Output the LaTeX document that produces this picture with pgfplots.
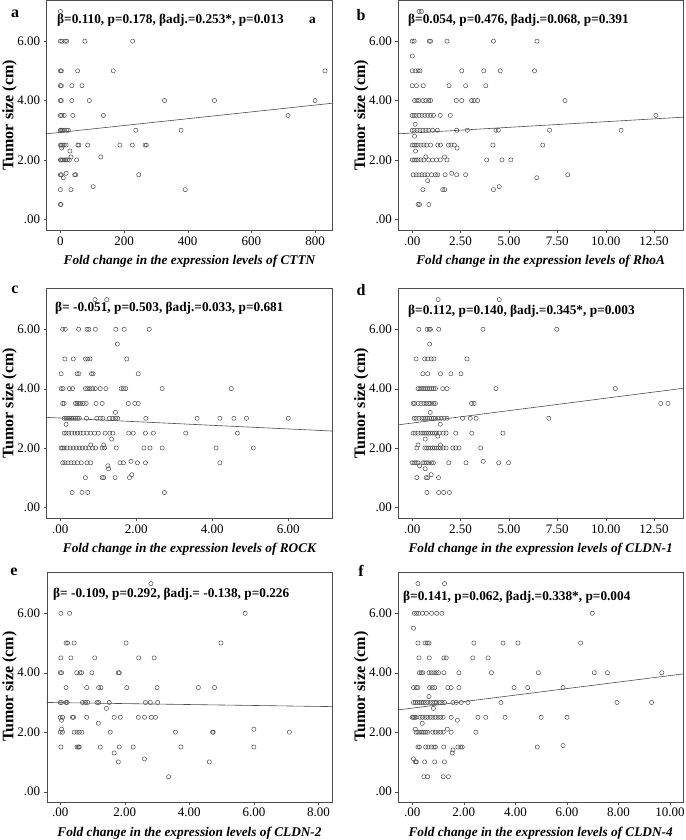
\documentclass[border=0pt]{standalone}
\usepackage{fontspec}
\setmainfont{Liberation Serif}
\usepackage{pgfplots}
\pgfplotsset{compat=1.18}

\pgfplotsset{
  panel/.style={scale only axis, width=285pt, height=230pt,
    axis line style={gray!60!black}, tick align=outside,
    xtick pos=left, ytick pos=left, major tick length=3pt,
    tick style={gray!60!black},
    ytick={0,2,4,6}, yticklabels={.00,2.00,4.00,6.00},
    tick label style={font=\fontsize{13}{14}\selectfont},
    ylabel={Tumor size (cm)},
    ylabel style={font=\fontsize{16}{18}\selectfont\bfseries,
      at={(axis description cs:-0.13,0.5)}, anchor=center},
    xlabel style={font=\fontsize{13.3}{15}\selectfont\bfseries\itshape, yshift=-3pt},
    anchor=north west},
  pts/.style={only marks, mark=o, mark size=2.1pt,
    mark options={draw=black!70, line width=0.5pt}},
  fit/.style={no marks, gray!60!black, line width=0.6pt}
}
\tikzset{note/.style={anchor=west, font=\fontsize{13.3}{15}\selectfont\bfseries, inner sep=0pt},
  plab/.style={font=\fontsize{16}{18}\selectfont\bfseries, inner sep=0pt}}

\begin{document}
\begin{tikzpicture}
\useasboundingbox (0,0) rectangle (685pt,-840pt);

% a: CTTN
\begin{axis}[panel, at={(46.7pt,-0.5pt)}, width=285.6pt, height=229.5pt,
  xmin=-43, xmax=854, ymin=-0.36, ymax=7.37,
  xtick={0,200,400,600,800}, xticklabels={0,200,400,600,800},
  xlabel={Fold change in the expression levels of CTTN}]
\addplot[pts] coordinates {
(0,7)
(0,6)(5,6)(15,6)(20,6)(77,6)(227,6)
(0,5)(3,5)(54,5)(166,5)(831,5)
(0,4.5)(3,4.5)(36,4.5)(68,4.5)
(0,4)(3,4)(36,4)(91,4)(327,4)(484,4)(800,4)
(0,3.5)(4,3.5)(12,3.5)(39,3.5)(135,3.5)(715,3.5)
(0,3)(2,3)(5,3)(8,3)(12,3)(20,3)(25,3)(237,3)(379,3)
(0,2.5)(3,2.5)(8,2.5)(12,2.5)(18,2.5)(55,2.5)(58,2.5)(86,2.5)(187,2.5)(226,2.5)(266,2.5)(270,2.5)
(4,2.4)(30,2.3)(33,2.1)(127,2.1)
(0,2)(3,2)(7,2)(12,2)(17,2)(22,2)(28,2)(51,2)
(0,1.5)(3,1.5)(18,1.55)(45,1.5)(48,1.5)(246,1.5)(9,1.4)
(0,1)(33,1)(103,1.1)(392,1)
(0,0.5)(2,0.5)
};
\addplot[fit] coordinates {(-43,2.88) (854,3.91)};
\end{axis}

% b: RhoA
\begin{axis}[panel, at={(398.3pt,-0.5pt)}, width=284.7pt, height=229.5pt,
  xmin=-0.72, xmax=14.0, ymin=-0.36, ymax=7.37,
  xtick={0,2.5,5,7.5,10,12.5}, xticklabels={.00,2.50,5.00,7.50,10.00,12.50},
  xlabel={Fold change in the expression levels of RhoA}]
\addplot[pts] coordinates {
(0.35,7)(0.47,7)
(0,6)(0.1,6)(0.88,6)(0.95,6)(1.8,6)(4.2,6)(6.45,6)
(0,5.5)
(0,5)(0.17,5)(0.3,5)(0.4,5)(2.56,5)(3.7,5)(4.55,5)(6.32,5)
(0,4.5)(0.22,4.5)(0.57,4.5)(1.9,4.5)(2.76,4.5)(3.8,4.5)
(0.12,4)(0.25,4)(0.35,4)(0.55,4)(0.7,4)(0.85,4)(0.95,4)(2.28,4)(2.56,4)(3.07,4)(3.2,4)(3.38,4)(7.9,4)
(0,3.5)(0.1,3.5)(0.2,3.5)(0.35,3.5)(0.5,3.5)(0.65,3.5)(0.8,3.5)(0.95,3.5)(1.1,3.5)(1.45,3.5)(1.97,3.5)(12.6,3.5)
(0.15,3.2)
(0,3)(0.1,3)(0.25,3)(0.4,3)(0.55,3)(0.7,3)(0.85,3)(1.05,3)(1.3,3)(2.3,3)(2.85,3)(4.33,3)(4.45,3)(7.1,3)(10.8,3)
(0.12,2.8)
(0,2.5)(0.1,2.5)(0.2,2.5)(0.3,2.5)(0.45,2.5)(0.6,2.5)(0.75,2.5)(0.95,2.5)(1.32,2.5)(1.46,2.5)(1.87,2.5)(2.0,2.5)(2.18,2.5)(2.32,2.4)(4.17,2.5)(6.75,2.5)
(0.17,2.3)
(0,2)(0.1,2)(0.2,2)(0.3,2)(0.45,2)(0.6,2)(0.7,2.1)(0.85,2)(1.05,2)(1.25,2)(1.45,2)(1.67,2.1)(1.8,2)(3.85,2)(4.64,2)(5.1,2)
(0.05,1.5)(0.2,1.5)(0.35,1.5)(0.5,1.5)(0.65,1.5)(0.8,1.5)(1.0,1.5)(1.2,1.5)(1.32,1.5)(1.7,1.5)(2.04,1.55)(2.3,1.5)(2.76,1.5)(6.44,1.4)(8.04,1.5)(0.8,1.3)
(0.55,1)(1.58,1)(1.68,1)(4.2,1)(4.5,1.1)
(0.3,0.5)(0.38,0.5)(0.86,0.5)
};
\addplot[fit] coordinates {(-0.72,2.88) (14.0,3.44)};
\end{axis}

% c: ROCK
\begin{axis}[panel, at={(46.7pt,-288.3pt)}, width=285.6pt, height=230pt,
  xmin=-0.36, xmax=7.16, ymin=-0.37, ymax=7.38,
  xtick={0,2,4,6}, xticklabels={.00,2.00,4.00,6.00},
  xlabel={Fold change in the expression levels of ROCK}]
\addplot[pts] coordinates {
(0.91,7)(1.22,7)
(0.06,6)(0.13,6)(0.48,6)(0.7,6)(0.75,6)(0.92,6)(1.46,6)(1.68,6)(2.34,6)
(1.5,5.5)
(0.12,5)(0.34,5)(0.66,5)(0.72,5)(0.78,5)(1.75,5)
(0.02,4.5)(0.44,4.5)(0.49,4.5)(0.82,4.5)(0.86,4.5)(2.05,4.5)
(0.02,4)(0.07,4)(0.24,4)(0.32,4)(0.66,4)(0.72,4)(0.78,4)(0.85,4)(0.92,4)(1.05,4)(1.2,4)(1.6,4)(1.66,4)(1.72,4)(2.68,4)(4.5,4)
(0.06,3.5)(0.1,3.5)(0.4,3.5)(0.44,3.5)(0.48,3.5)(0.53,3.5)(0.6,3.5)(0.68,3.5)(0.94,3.5)(1.1,3.5)(1.79,3.5)(1.96,3.5)(2.05,3.5)
(1.45,3.2)
(0.1,3)(0.15,3)(0.2,3)(0.25,3)(0.3,3)(0.35,3)(0.4,3)(0.45,3)(0.5,3)(0.69,3)(0.96,3)(1.05,3)(1.12,3)(1.29,3)(1.38,3)(1.45,3)(1.51,3)(2.25,3)(3.6,3)(4.2,3)(4.57,3)(4.9,3)(6.0,3)
(0.15,2.8)
(0.1,2.5)(0.15,2.5)(0.22,2.5)(0.3,2.5)(0.38,2.5)(0.45,2.5)(0.52,2.5)(0.6,2.5)(0.7,2.5)(0.8,2.5)(0.9,2.5)(1.0,2.5)(1.18,2.5)(1.3,2.5)(1.38,2.5)(1.8,2.5)(1.92,2.5)(2.24,2.5)(2.45,2.5)(3.3,2.5)(4.66,2.5)
(1.35,2.3)(0.8,2.1)(1.14,2.1)
(0.02,2)(0.06,2)(0.1,2)(0.18,2)(0.26,2)(0.34,2)(0.42,2)(0.5,2)(0.58,2)(0.66,2)(0.75,2)(0.85,2)(0.93,2)(1.1,2)(1.16,2)(1.47,2)(2.2,2)(2.36,2)(2.68,2)(4.1,2)(5.08,2)
(0.06,1.5)(0.12,1.5)(0.2,1.5)(0.28,1.5)(0.36,1.5)(0.45,1.5)(0.55,1.5)(0.7,1.5)(0.8,1.5)(1.25,1.4)(1.27,1.3)(1.57,1.5)(1.66,1.5)(1.86,1.55)(2.03,1.5)(2.24,1.5)(4.2,1.5)
(0.66,1)(1.1,1)(1.14,1)(1.44,1)(1.82,1)(1.88,1.1)
(0.31,0.5)(0.57,0.5)(0.72,0.5)(2.74,0.5)
};
\addplot[fit] coordinates {(-0.36,3.03) (7.16,2.57)};
\end{axis}

% d: CLDN-1
\begin{axis}[panel, at={(398.3pt,-288.3pt)}, width=284.7pt, height=230pt,
  xmin=-0.72, xmax=14.0, ymin=-0.37, ymax=7.38,
  xtick={0,2.5,5,7.5,10,12.5}, xticklabels={.00,2.50,5.00,7.50,10.00,12.50},
  xlabel={Fold change in the expression levels of CLDN-1}]
\addplot[pts] coordinates {
(1.34,7)(4.5,7)
(0.34,6)(0.77,6)(0.88,6)(0.94,6)(1.37,6)(3.66,6)(7.47,6)
(0.9,5.5)
(0.2,5)(0.64,5)(0.8,5)(0.98,5)(1.12,5)(2.83,5)
(0.55,4.5)(0.8,4.5)(1.46,4.5)(2.0,4.5)(2.52,4.5)
(0.3,4)(0.4,4)(0.5,4)(0.6,4)(0.7,4)(0.8,4)(0.9,4)(1.0,4)(1.1,4)(1.2,4)(1.58,4)(1.8,4)(4.33,4)(10.5,4)
(0.05,3.5)(0.12,3.5)(0.3,3.5)(0.45,3.5)(0.6,3.5)(0.72,3.5)(0.85,3.5)(0.95,3.5)(1.1,3.5)(1.2,3.5)(3.07,3.5)(3.2,3.5)(12.85,3.5)(13.22,3.5)
(0.93,3.2)
(0.1,3)(0.2,3)(0.35,3)(0.5,3)(0.6,3)(0.7,3)(0.8,3)(0.9,3)(1.0,3)(1.1,3)(1.2,3)(1.35,3)(1.5,3)(1.65,3)(1.8,3)(2.6,3)(3.0,3)(3.3,3)(7.06,3)
(1.45,2.8)
(0.05,2.5)(0.15,2.5)(0.3,2.5)(0.45,2.5)(0.55,2.5)(0.65,2.5)(0.75,2.5)(0.85,2.5)(0.95,2.5)(1.05,2.5)(1.15,2.5)(1.25,2.5)(1.4,2.5)(1.6,2.5)(1.75,2.5)(2.25,2.5)(3.08,2.5)(4.69,2.5)
(0.67,2.3)(1.32,2.4)(0.3,2.1)(1.46,2.1)
(0.24,2)(0.65,2)(0.75,2)(0.85,2)(0.95,2)(1.05,2)(1.15,2)(1.25,2)(1.35,2)(1.45,2)(1.6,2)(1.75,2)(2.1,2)(2.25,2)(2.42,2)(3.54,2)
(0.0,1.5)(0.1,1.5)(0.2,1.5)(0.3,1.5)(0.55,1.5)(0.65,1.5)(0.75,1.5)(0.85,1.5)(1.0,1.5)(1.1,1.5)(1.89,1.5)(2.78,1.5)(3.67,1.55)(4.47,1.5)(4.98,1.5)(0.38,1.4)(0.67,1.3)
(0.24,1)(0.72,1)(0.8,1)(0.98,1.1)(1.36,1)
(0.76,0.5)(1.37,0.5)(1.63,0.5)(1.92,0.5)
};
\addplot[fit] coordinates {(-0.72,2.78) (14.0,4.01)};
\end{axis}

% e: CLDN-2
\begin{axis}[panel, at={(46.7pt,-571.7pt)}, width=285.6pt, height=230pt,
  xmin=-0.42, xmax=8.43, ymin=-0.34, ymax=7.4,
  xtick={0,2,4,6,8}, xticklabels={.00,2.00,4.00,6.00,8.00},
  xlabel={Fold change in the expression levels of CLDN-2}]
\addplot[pts] coordinates {
(2.81,7)
(0.02,6)(0.29,6)(5.73,6)
(0.18,5)(0.23,5)(0.43,5)(2.04,5)(4.98,5)
(0.02,4.5)(0.33,4.5)(1.07,4.5)(2.43,4.5)(2.91,4.5)
(0,4)(0.04,4)(0.51,4)(0.61,4)(0.66,4)(0.98,4)(1.8,4)(1.83,4)
(0.18,3.5)(0.82,3.5)(1.19,3.5)(1.26,3.5)(2.06,3.5)(3.0,3.5)(4.28,3.5)(4.78,3.5)
(0,3)(0.04,3)(0.18,3)(0.21,3)(0.69,3)(0.78,3)(0.85,3)(1.14,3)(1.19,3)(1.52,3)(2.64,3)(2.79,3)(3.02,3)
(1.43,2.8)
(0,2.5)(0.07,2.5)(0.38,2.5)(0.41,2.5)(0.82,2.5)(1.67,2.5)(1.86,2.5)(2.42,2.5)(2.61,2.5)(2.82,2.5)(2.95,2.5)
(0.04,2.4)(0.04,2.1)
(0,2)(0.07,2)(0.43,2)(0.52,2)(0.59,2)(0.67,2)(1.18,2.3)(1.55,2)(3.57,2)(4.72,2)(4.74,2)(7.1,2)(6.0,2.1)
(0.02,1.5)(0.52,1.5)(0.56,1.5)(0.59,1.5)(1.24,1.5)(1.83,1.5)(2.26,1.5)(3.74,1.5)(6.0,1.5)
(1.67,1.3)(1.8,1)(2.61,1.1)(3.36,0.5)(4.62,1)
};
\addplot[fit] coordinates {(-0.42,3.0) (8.43,2.86)};
\end{axis}

% f: CLDN-4
\begin{axis}[panel, at={(398.3pt,-571.7pt)}, width=284.7pt, height=230pt,
  xmin=-0.54, xmax=10.5, ymin=-0.34, ymax=7.4,
  xtick={0,2,4,6,8,10}, xticklabels={.00,2.00,4.00,6.00,8.00,10.00},
  xlabel={Fold change in the expression levels of CLDN-4}]
\addplot[pts] coordinates {
(0.22,7)(1.25,7)
(0.08,6)(0.17,6)(0.25,6)(0.4,6)(0.55,6)(0.75,6)(0.95,6)(1.15,6)(6.98,6)
(0.05,5.5)
(0.22,5)(0.5,5)(0.58,5)(0.65,5)(2.39,5)(3.52,5)(4.1,5)(6.53,5)
(0.26,4.5)(0.66,4.5)(1.23,4.5)(1.32,4.5)(2.35,4.5)(2.94,4.5)
(0.28,4)(0.35,4)(0.41,4)(0.65,4)(0.74,4)(0.84,4)(0.93,4)(1.02,4)(1.23,4)(1.81,4)(3.07,4)(4.89,4)(7.06,4)(7.57,4)(9.68,4)
(0.05,3.5)(0.16,3.5)(0.22,3.5)(0.67,3.5)(0.78,3.5)(0.87,3.5)(1.38,3.5)(1.51,3.5)(1.81,3.5)(3.95,3.5)(4.48,3.5)(5.85,3.5)
(0.65,3.2)
(0.05,3)(0.12,3)(0.2,3)(0.28,3)(0.35,3)(0.42,3)(0.5,3)(0.6,3)(0.7,3)(0.8,3)(0.88,3)(0.95,3)(1.05,3)(1.15,3)(1.25,3)(1.58,3)(1.71,3)(1.9,3)(2.16,3)(3.44,3)(7.94,3)(9.28,3)
(0.82,2.8)
(0.0,2.5)(0.05,2.5)(0.1,2.5)(0.15,2.5)(0.3,2.5)(0.4,2.5)(0.5,2.5)(0.6,2.5)(0.7,2.5)(0.8,2.5)(0.9,2.5)(1.0,2.5)(1.1,2.5)(1.2,2.5)(1.51,2.5)(2.55,2.5)(2.85,2.5)(3.6,2.5)(5.0,2.5)(6.0,2.5)
(1.75,2.4)(0.39,2.3)(0.12,2.1)(1.36,2.1)
(0.15,2)(0.22,2)(0.3,2)(0.38,2)(0.45,2)(0.52,2)(0.6,2)(0.8,2)(0.9,2)(1.0,2)(1.1,2)(1.2,2)(1.51,2)(2.47,2)
(0.22,1.5)(0.28,1.5)(0.52,1.5)(0.61,1.5)(0.74,1.5)(0.84,1.5)(0.9,1.5)(1.22,1.5)(1.77,1.5)(1.88,1.5)(1.94,1.5)(4.85,1.5)(5.85,1.55)(1.58,1.4)(1.55,1.3)
(0.05,1.1)(0.12,1)(0.16,1)(0.48,1)(0.87,1)(1.25,1)
(0.45,0.5)(0.6,0.5)(1.2,0.5)(1.4,0.5)
};
\addplot[fit] coordinates {(-0.54,2.75) (10.5,3.96)};
\end{axis}

% annotations and panel letters
\node[note] at (57pt,-20pt) {β=0.110, p=0.178, βadj.=0.253*, p=0.013};
\node[note] at (309pt,-20pt) {a};
\node[note] at (408pt,-20pt) {β=0.054, p=0.476, βadj.=0.068, p=0.391};
\node[note] at (55pt,-308pt) {β= -0.051, p=0.503, βadj.=0.033, p=0.681};
\node[note] at (408pt,-311pt) {β=0.112, p=0.140, βadj.=0.345*, p=0.003};
\node[note] at (53pt,-594pt) {β= -0.109, p=0.292, βadj.= -0.138, p=0.226};
\node[note] at (403pt,-597pt) {β=0.141, p=0.062, βadj.=0.338*, p=0.004};
\node[plab] at (15pt,-14pt) {a};
\node[plab] at (361pt,-15pt) {b};
\node[plab] at (15pt,-290pt) {c};
\node[plab] at (361pt,-290pt) {d};
\node[plab] at (14pt,-572pt) {e};
\node[plab] at (361pt,-571pt) {f};
\end{tikzpicture}
\end{document}
